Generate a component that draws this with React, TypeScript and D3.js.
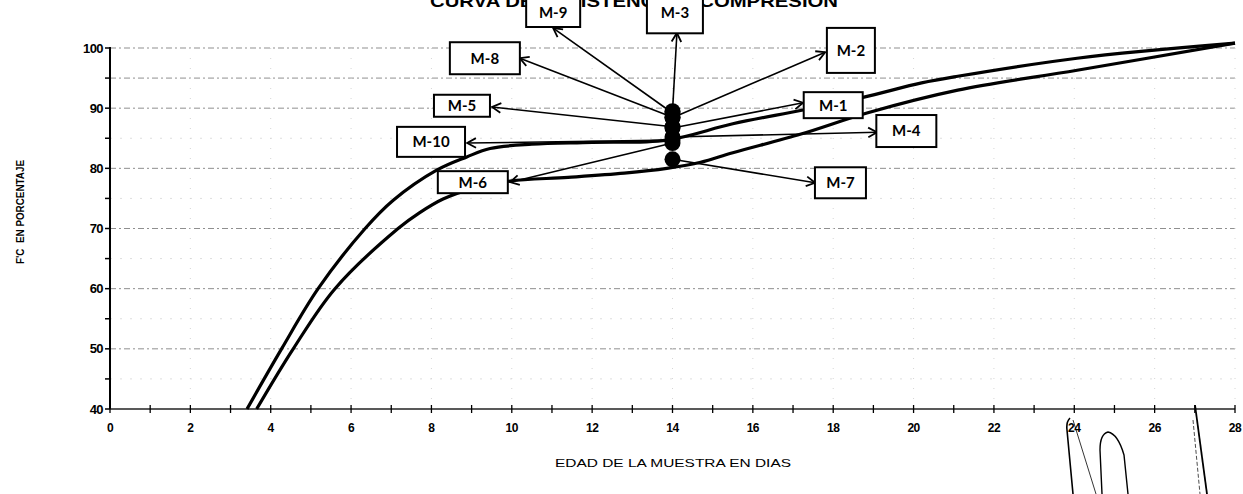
import React from "react";
import * as d3 from "d3";

// ---------- data ----------
const xTickValues = d3.range(0, 29, 2);
const xMinorTicks = d3.range(0, 29, 1);
const yTickValues = [40, 50, 60, 70, 80, 90, 100];
const yMinorTicks = d3.range(40, 101, 5);

const upperDays = [3.41, 4.27, 5.18, 6.35, 7.05, 8.13, 8.88, 9.46, 10.5, 12, 13.86, 15.5, 17.25, 18.74, 20.2, 21.1, 24.07, 28];
const upperValues = [40, 50, 60, 70, 74.7, 79.7, 81.9, 83.3, 84.0, 84.3, 84.7, 87.4, 89.7, 91.8, 94.2, 95.3, 98.3, 100.8];

const lowerDays = [3.65, 4.56, 5.6, 7.17, 7.7, 8.29, 9.1, 9.96, 11.4, 12.8, 13.86, 14.7, 15.5, 17.2, 18.84, 21.1, 24.07, 28];
const lowerValues = [40, 50, 60, 70, 72.6, 74.9, 76.8, 77.9, 78.5, 79.2, 80.0, 81.0, 82.6, 85.7, 89.2, 93.0, 96.3, 100.8];

const sampleDay = 14;
const sampleNames = ["M-1", "M-2", "M-3", "M-4", "M-5", "M-6", "M-7", "M-8", "M-9", "M-10"];
const sampleValues = [86.7, 88.4, 89.5, 85.2, 86.9, 84.2, 81.5, 88.5, 89.2, 84.7];

const titleText = "CURVA DE RESISTENCIA A COMPRESION";
const yTitle = "F'C  EN PORCENTAJE";
const xTitle = "EDAD DE LA MUESTRA EN DIAS";

// ---------- layout (callout placement, in data units) ----------
const calloutLayout: Record<string, { tip: [number, number]; c: [number, number]; w: number; h: number }> = {
  "M-1": { tip: [17.25, 90.9], c: [18.0, 90.5], w: 59, h: 26 },
  "M-2": { tip: [17.8, 99.3], c: [18.44, 99.6], w: 48, h: 45 },
  "M-3": { tip: [14.11, 102.5], c: [14.06, 105.6], w: 56, h: 38 },
  "M-4": { tip: [19.09, 86.0], c: [19.82, 86.2], w: 60, h: 32 },
  "M-5": { tip: [9.51, 90.2], c: [8.76, 90.4], w: 56, h: 22 },
  "M-6": { tip: [9.96, 77.7], c: [9.03, 77.7], w: 70, h: 22 },
  "M-7": { tip: [17.55, 77.6], c: [18.18, 77.6], w: 51, h: 31 },
  "M-8": { tip: [10.2, 98.3], c: [9.33, 98.3], w: 70, h: 32 },
  "M-9": { tip: [11.03, 103.3], c: [11.03, 105.9], w: 54, h: 29 },
  "M-10": { tip: [8.89, 84.2], c: [7.99, 84.4], w: 68, h: 30 },
};

const W = 1243;
const H = 494;
const M = { left: 110, right: 1235, top: 48, bottom: 409 };

export default function App() {
  const x = d3.scaleLinear().domain([0, 28]).range([M.left, M.right]);
  const y = d3.scaleLinear().domain([40, 100]).range([M.bottom, M.top]);

  const line = d3
    .line<[number, number]>()
    .x((d) => x(d[0]))
    .y((d) => y(d[1]))
    .curve(d3.curveCatmullRom.alpha(0.5));

  const upper = upperDays.map((d, i) => [d, upperValues[i]] as [number, number]);
  const lower = lowerDays.map((d, i) => [d, lowerValues[i]] as [number, number]);

  const numFont = "'Liberation Sans Narrow', 'Liberation Sans', Arial, sans-serif";
  const labelFont = "Lato, 'Open Sans', sans-serif";

  const arrowHead = (x1: number, y1: number, x2: number, y2: number) => {
    const ang = Math.atan2(y2 - y1, x2 - x1);
    const L = 10;
    const a1 = ang + Math.PI - 0.5;
    const a2 = ang + Math.PI + 0.5;
    return `M${x2 + L * Math.cos(a1)},${y2 + L * Math.sin(a1)}L${x2},${y2}L${x2 + L * Math.cos(a2)},${y2 + L * Math.sin(a2)}`;
  };

  return (
    <svg
      width={W}
      height={H}
      style={{ position: "absolute", left: 0, top: 0, background: "#fff" }}
    >
      {/* title (partly clipped at top) */}
      <text
        x={634}
        y={7}
        textAnchor="middle"
        fontFamily="Arial, 'Liberation Sans', sans-serif"
        fontWeight="bold"
        fontSize={17}
        textLength={408}
        lengthAdjust="spacingAndGlyphs"
        fill="#000"
      >
        {titleText}
      </text>

      {/* gridlines */}
      {yMinorTicks
        .filter((v) => v > 40)
        .map((v) => {
          const major = v % 10 === 0 || v === 95;
          return (
            <line
              key={"gy" + v}
              x1={M.left}
              x2={M.right}
              y1={y(v)}
              y2={y(v)}
              stroke={major ? "#8f8f8f" : "#dedede"}
              strokeWidth={1}
              strokeDasharray={major ? "6,3,2,3" : "2,8"}
            />
          );
        })}
      {xTickValues
        .filter((v) => v > 0)
        .map((v) => (
          <line
            key={"gx" + v}
            x1={x(v)}
            x2={x(v)}
            y1={M.top}
            y2={M.bottom}
            stroke="#d6d6d6"
            strokeWidth={1}
            strokeDasharray="1,9"
          />
        ))}

      {/* y axis */}
      <line x1={M.left} x2={M.left} y1={M.top - 1} y2={M.bottom} stroke="#000" strokeWidth={2} />
      {yMinorTicks.map((v) => (
        <line key={"yt" + v} x1={M.left - 5} x2={M.left} y1={y(v)} y2={y(v)} stroke="#000" strokeWidth={1.5} />
      ))}
      {yTickValues.map((v) => (
        <text
          key={"yl" + v}
          x={M.left - 7}
          y={y(v)}
          dy="0.35em"
          textAnchor="end"
          fontFamily={numFont}
          fontWeight="bold"
          fontSize={13}
          letterSpacing={-0.6}
          fill="#000"
        >
          {v}
        </text>
      ))}

      {/* x axis */}
      <line x1={M.left} x2={M.right} y1={M.bottom} y2={M.bottom} stroke="#222" strokeWidth={1.5} />
      {xMinorTicks.map((v) => (
        <line key={"xt" + v} x1={x(v)} x2={x(v)} y1={M.bottom - 4} y2={M.bottom + 4} stroke="#000" strokeWidth={1.3} />
      ))}
      {xTickValues.map((v) => (
        <text
          key={"xl" + v}
          x={x(v)}
          y={432}
          textAnchor="middle"
          fontFamily={numFont}
          fontWeight="bold"
          fontSize={12}
          letterSpacing={-0.5}
          fill="#000"
        >
          {v}
        </text>
      ))}

      {/* axis titles */}
      <text
        transform={`translate(24,212) rotate(-90)`}
        textAnchor="middle"
        fontFamily="Arial, 'Liberation Sans', sans-serif"
        fontWeight="bold"
        fontSize={11}
        textLength={104}
        lengthAdjust="spacingAndGlyphs"
        style={{ whiteSpace: "pre" }}
        fill="#000"
      >
        {yTitle}
      </text>
      <text
        x={673}
        y={467}
        textAnchor="middle"
        fontFamily="Arial, 'Liberation Sans', sans-serif"
        fontSize={11.5}
        textLength={236}
        lengthAdjust="spacingAndGlyphs"
        fill="#000"
      >
        {xTitle}
      </text>

      {/* curves */}
      <path d={line(upper) || ""} fill="none" stroke="#000" strokeWidth={3.2} />
      <path d={line(lower) || ""} fill="none" stroke="#000" strokeWidth={3.2} />

      {/* arrows */}
      {sampleNames.map((n, i) => {
        const l = calloutLayout[n];
        const x1 = x(sampleDay);
        const y1 = y(sampleValues[i]);
        const x2 = x(l.tip[0]);
        const y2 = y(l.tip[1]);
        return (
          <g key={"ar" + n}>
            <line x1={x1} y1={y1} x2={x2} y2={y2} stroke="#000" strokeWidth={1.6} />
            <path d={arrowHead(x1, y1, x2, y2)} fill="none" stroke="#000" strokeWidth={1.8} />
          </g>
        );
      })}

      {/* sample points */}
      {sampleNames.map((n, i) => (
        <circle key={"pt" + n} cx={x(sampleDay)} cy={y(sampleValues[i])} r={8} fill="#000" />
      ))}

      {/* callout boxes */}
      {sampleNames.map((n) => {
        const l = calloutLayout[n];
        const cx = x(l.c[0]);
        const cy = y(l.c[1]);
        const textY = n === "M-3" || n === "M-9" ? 13 : cy;
        return (
          <g key={"bx" + n}>
            <rect
              x={cx - l.w / 2}
              y={cy - l.h / 2}
              width={l.w}
              height={l.h}
              fill="#fff"
              stroke="#000"
              strokeWidth={2}
            />
            <text
              x={cx}
              y={textY}
              dy="0.36em"
              textAnchor="middle"
              fontFamily={labelFont}
              fontWeight="bold"
              fontSize={15}
              fill="#000"
            >
              {n}
            </text>
          </g>
        );
      })}

      {/* handwritten signature marks */}
      <g fill="none" stroke="#000">
        <path d="M1070,418 Q1066,422 1067,430 L1073,494" strokeWidth={1.6} />
        <path d="M1073,420 L1096,494" strokeWidth={0.8} />
        <path d="M1102,494 L1100,450 Q1100,434 1108,432 Q1118,434 1124,455 L1128,494" strokeWidth={1.4} />
        <path d="M1195,405 L1207,494" strokeWidth={1.8} />
        <path d="M1193,420 L1200,494" strokeWidth={0.7} strokeDasharray="4,2" />
      </g>
    </svg>
  );
}
